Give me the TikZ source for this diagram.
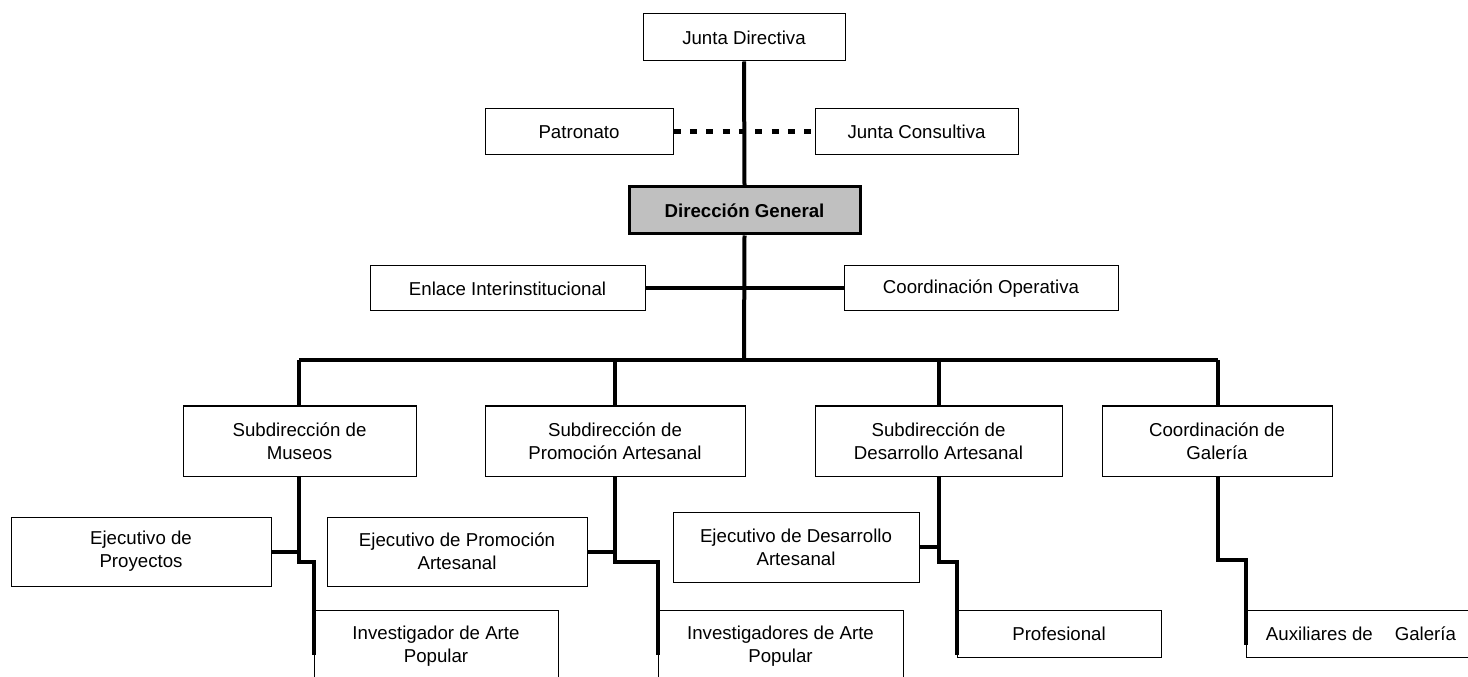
\documentclass[tikz,border=0pt]{standalone}
\usepackage{fontspec}
\setmainfont{Liberation Sans}
\usetikzlibrary{calc}
\definecolor{dggray}{RGB}{192,192,192}
\begin{document}
\begin{tikzpicture}[x=0.75pt,y=-0.75pt,
  box/.style={draw=black,line width=0.75pt,fill=white,inner sep=0pt,align=center,
    font=\fontsize{14}{17.25}\selectfont},
  dgbox/.style={box,line width=2.25pt,fill=dggray,font=\fontsize{14}{17.25}\selectfont\bfseries},
  conn/.style={line width=3pt,line join=miter,line cap=butt},
  dotconn/.style={line width=3.75pt,dash pattern=on 5.25pt off 7pt}]
\useasboundingbox (0,0) rectangle (1468,677);
\clip (0,0) rectangle (1468,677);
\fill[white] (0,0) rectangle (1468,677);

\coordinate (bus) at (744,360);
\coordinate (busL) at (299,360);
\coordinate (busR) at (1218,360);

% boxes
\node[box,minimum width=151.5pt,minimum height=35.25pt] (jd) at (744,37.5) {Junta Directiva};
\node[box,minimum width=141pt,minimum height=34.5pt] (pat) at (579,132) {Patronato};
\node[box,minimum width=152.25pt,minimum height=34.5pt] (jc) at (916.5,132) {Junta Consultiva};
\node[dgbox,minimum width=173.25pt,minimum height=35.25pt] (dg) at (744.5,210.5) {Dirección General};
\node[box,minimum width=206.25pt,minimum height=33.75pt] (enl) at (507.5,288.5) {Enlace Interinstitucional};
\node[box,minimum width=205.5pt,minimum height=33.75pt] (co) at (981,288.5) {Coordinación Operativa};

\node[box,minimum width=174.75pt,minimum height=52.5pt] (sm) at (299.5,441) {Subdirección de\\Museos};
\node[box,minimum width=195pt,minimum height=52.5pt] (sp) at (615,441) {Subdirección de\\Promoción Artesanal};
\node[box,minimum width=185.25pt,minimum height=52.5pt] (sd) at (938.5,441) {Subdirección de\\Desarrollo Artesanal};
\node[box,minimum width=172.5pt,minimum height=52.5pt] (cg) at (1217,441) {Coordinación de\\Galería};

\node[box,minimum width=195pt,minimum height=51.75pt] (ep) at (141,551.5) {Ejecutivo de\\Proyectos};
\node[box,minimum width=195pt,minimum height=51.75pt] (epa) at (457,551.5) {Ejecutivo de Promoción\\Artesanal};
\node[box,minimum width=184.5pt,minimum height=52.5pt] (eda) at (796,547) {Ejecutivo de Desarrollo\\Artesanal};

\node[box,minimum width=183pt,minimum height=54pt] (inv) at (436,646) {Investigador de Arte\\Popular};
\node[box,minimum width=183.75pt,minimum height=54pt] (invs) at (780.5,646) {Investigadores de Arte\\Popular};
\node[box,minimum width=153pt,minimum height=35.25pt] (prof) at (1059,633.5) {Profesional};
\node[box,minimum width=172.5pt,minimum height=35.25pt] (aux) at (1361,633.5) {Auxiliares de\hspace{16.5pt}Galería};

% top structure
\draw[conn] (jd.south) -- (dg.north);
\draw[dotconn] (pat.east) -- (jc.west);
\draw[conn] (dg.south) -- (bus);
\draw[conn] (enl.east) -- (co.west);
\draw[conn] (busL) -- (busR);
\draw[conn] (busL) -- (busL |- sm.north);
\draw[conn] (sp.north |- bus) -- (sp.north);
\draw[conn] (sd.north |- bus) -- (sd.north);
\draw[conn] (busR) -- (busR |- cg.north);

% lower branches
\draw[conn] (busL |- sm.south) |- ($(inv.north west)+(0,-48)$) -- ($(inv.north west)+(0,45)$);
\draw[conn] (ep.east) -- (busL |- ep.east);
\draw[conn] (sp.south) |- ($(invs.north west)+(0,-48)$) -- ($(invs.north west)+(0,45)$);
\draw[conn] (epa.east) -- (sp.south |- epa.east);
\draw[conn] (sd.south) |- ($(prof.north west)+(0,-48)$) -- ($(prof.north west)+(0,45)$);
\draw[conn] (eda.east) -- (sd.south |- eda.east);
\draw[conn] (busR |- cg.south) |- ($(aux.north west)+(0,-50)$) -- ($(aux.north west)+(0,35)$);
\end{tikzpicture}
\end{document}
